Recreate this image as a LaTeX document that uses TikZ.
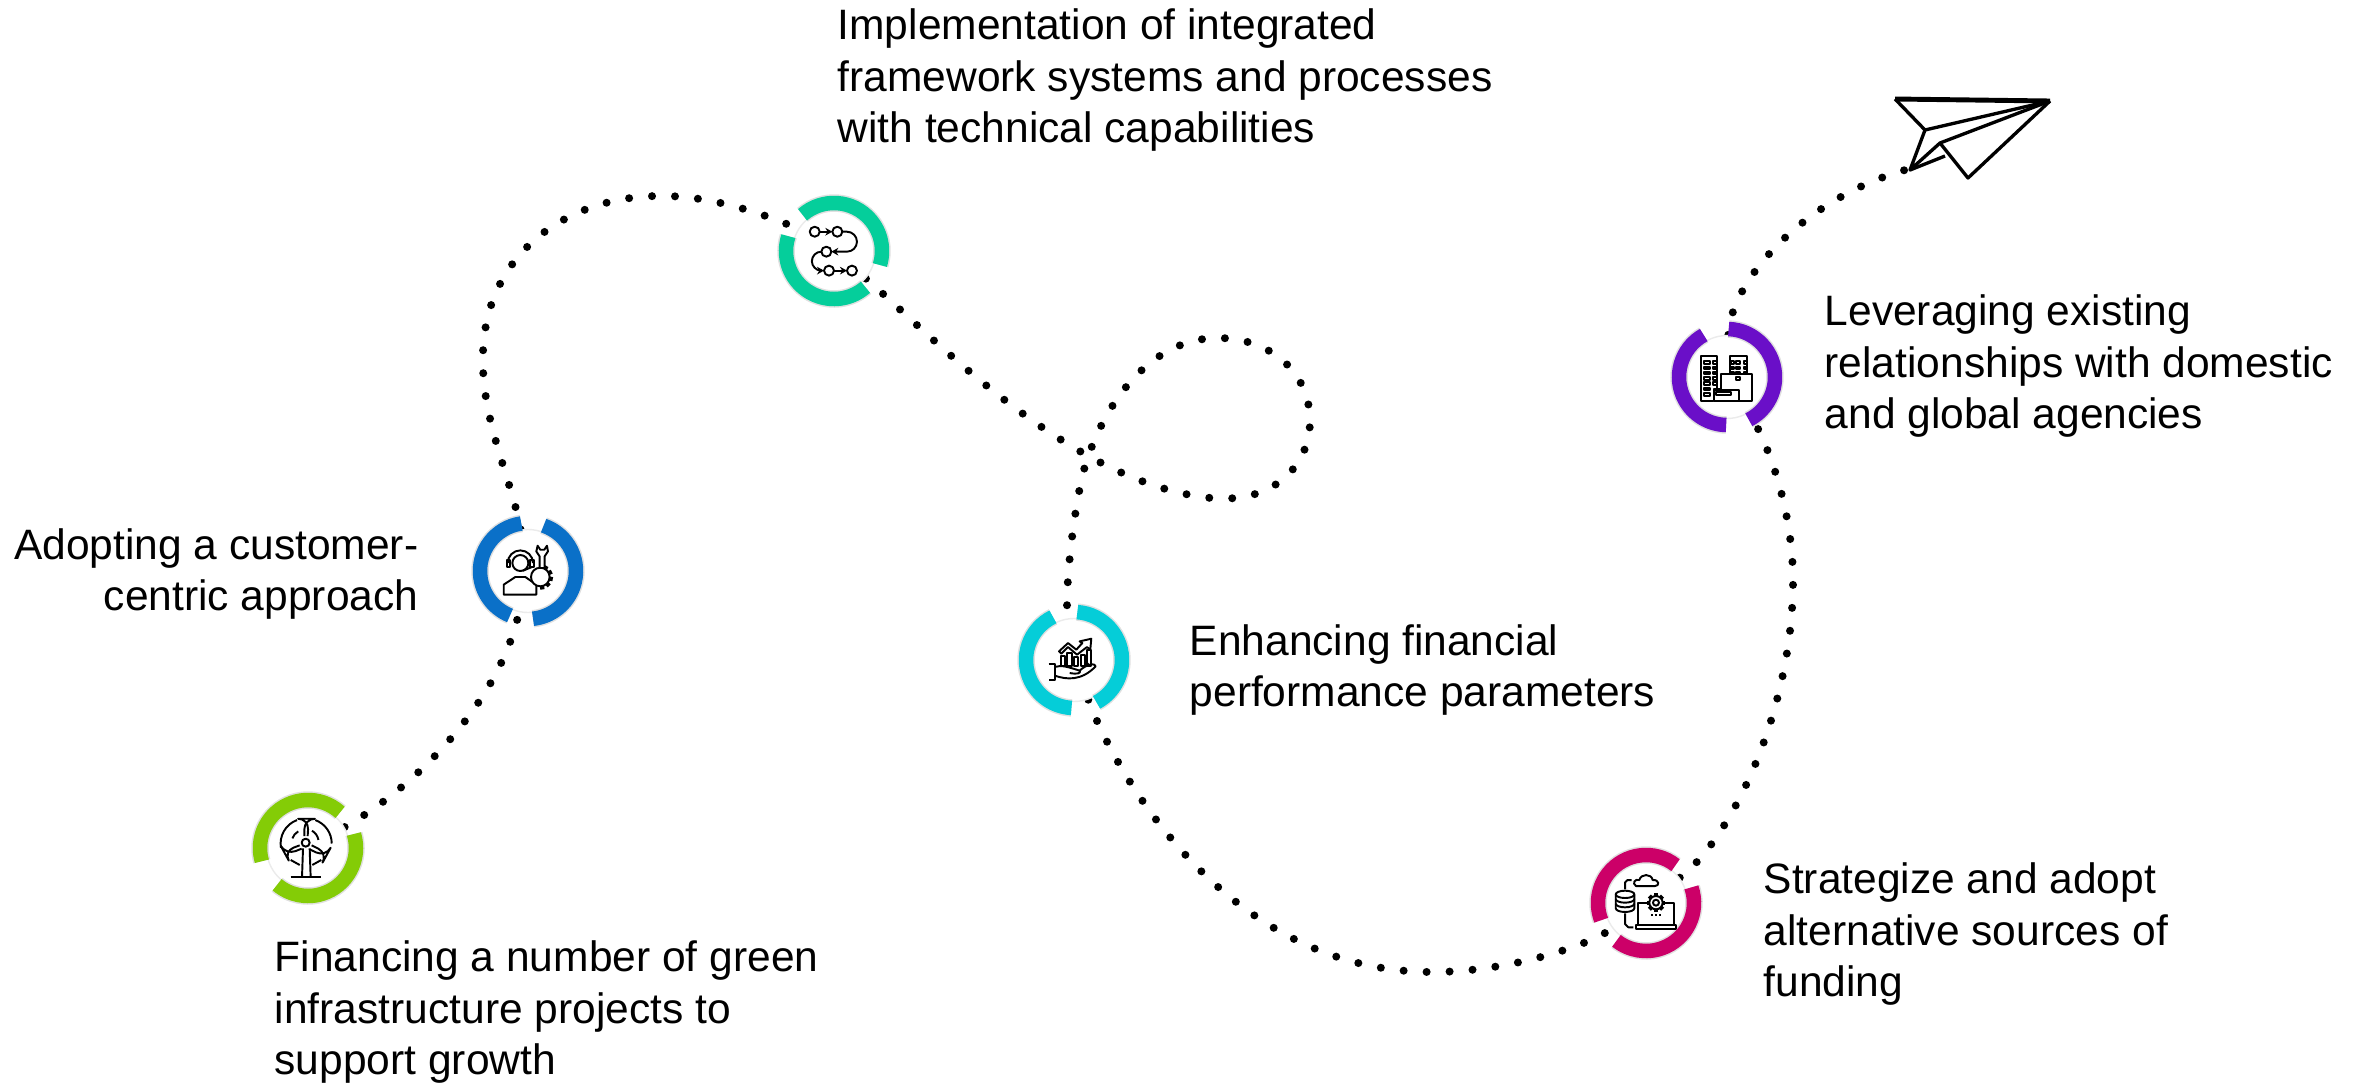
\documentclass[tikz,border=0pt]{standalone}
\usepackage{fontspec}
\setmainfont{Liberation Sans}
\usepackage{xcolor}
\usetikzlibrary{arrows.meta, backgrounds, calc}
\definecolor{windcolor}{RGB}{132, 204, 6}
\definecolor{supportcolor}{RGB}{10, 112, 200}
\definecolor{processcolor}{RGB}{5, 206, 155}
\definecolor{growthcolor}{RGB}{5, 205, 216}
\definecolor{fundingcolor}{RGB}{204, 0, 104}
\definecolor{agencycolor}{RGB}{106, 15, 200}
\tikzset{
    stopnode/.style={circle, fill=white, draw=black!8, line width=0.4pt, minimum size=0.83cm, inner sep=0pt},
    ringarc/.style={line width=0.145cm, preaction={draw=black, opacity=0.12, line width=0.175cm}},
    dotline/.style={line width=0.08cm, line cap=round, dash pattern=on 0pt off 0.23cm},
    steptext/.style={font=\fontsize{12.1}{14.55}\selectfont, inner sep=0pt, align=left, anchor=west},
    iconart/.style n args={3}{shift={(#1)}, x=0.003333cm, y=-0.003333cm, shift={(-#2,-#3)}, line width=0.55pt, line join=round},
    flowtip/.style={-{Stealth[length=2pt, width=2.2pt]}},
    planeline/.style={line width=0.95pt, line join=round}
}

\begin{document}
\begin{tikzpicture}
        \useasboundingbox (0,0) rectangle (23.63,10.84);

        % Stops
        \node[stopnode] (wind) at (3.08,2.36) {};
        \node[stopnode] (support) at (5.28,5.13) {};
        \node[stopnode] (process) at (8.34,8.33) {};
        \node[stopnode] (growth) at (10.74,4.24) {};
        \node[stopnode] (funding) at (16.46,1.81) {};
        \node[stopnode] (agency) at (17.27,7.07) {};
        \coordinate (planetail) at (19.05,9.14);

        % Dotted route
        \begin{scope}[on background layer]
            \draw[dotline] (wind) .. controls (4.20,3.00) and (5.00,3.85) .. (support);
            \draw[dotline] (support) .. controls (5.10,6.14) and (4.70,6.84) .. (4.87,7.64) .. controls (5.05,8.44) and (5.80,8.89) .. (6.63,8.88) .. controls (7.30,8.88) and (8.00,8.54) .. (process);
            \draw[dotline] (process) .. controls (9.30,7.50) and (10.70,6.00) .. (12.11,5.86) .. controls (12.75,5.80) and (13.10,6.20) .. (13.10,6.63) .. controls (13.10,7.12) and (12.70,7.46) .. (12.18,7.46) .. controls (11.45,7.46) and (10.98,6.70) .. (10.82,6.07) .. controls (10.70,5.50) and (10.65,4.84) .. (growth);
            \draw[dotline] (growth) .. controls (11.10,3.24) and (12.20,1.12) .. (14.32,1.12) .. controls (15.10,1.12) and (15.90,1.39) .. (funding);
            \draw[dotline] (funding) .. controls (17.30,2.44) and (17.95,3.74) .. (17.93,5.11) .. controls (17.90,5.94) and (17.60,6.54) .. (agency);
            \draw[dotline] (agency) .. controls (17.30,8.00) and (18.00,8.84) .. (planetail);
        \end{scope}

        % Rings
        \draw[ringarc, windcolor] ([shift={(48:0.48)}]wind.center) arc (48:196:0.48);
        \draw[ringarc, windcolor] ([shift={(17:0.48)}]wind.center) arc (17:-130:0.48);
        \draw[ringarc, supportcolor] ([shift={(98:0.48)}]support.center) arc (98:248:0.48);
        \draw[ringarc, supportcolor] ([shift={(71:0.48)}]support.center) arc (71:-84:0.48);
        \draw[ringarc, processcolor] ([shift={(131:0.48)}]process.center) arc (131:-17:0.48);
        \draw[ringarc, processcolor] ([shift={(162:0.48)}]process.center) arc (162:311:0.48);
        \draw[ringarc, growthcolor] ([shift={(86:0.48)}]growth.center) arc (86:-62:0.48);
        \draw[ringarc, growthcolor] ([shift={(116:0.48)}]growth.center) arc (116:267:0.48);
        \draw[ringarc, fundingcolor] ([shift={(52:0.48)}]funding.center) arc (52:201:0.48);
        \draw[ringarc, fundingcolor] ([shift={(19:0.48)}]funding.center) arc (19:-128:0.48);
        \draw[ringarc, agencycolor] ([shift={(88:0.48)}]agency.center) arc (88:-63:0.48);
        \draw[ringarc, agencycolor] ([shift={(119:0.48)}]agency.center) arc (119:269:0.48);

        % Wind turbine icon
        \begin{scope}[iconart={wind.center}{265}{234}]
            \draw (213,322) -- (305,322);
            \draw (250,235) -- (247,322);
            \draw (270,235) -- (273,322);
            \draw (258,218) circle (12);
            \draw[rounded corners=3pt] (254,198) -- (254,146) -- (267,146) -- (264,198);
            \draw[rounded corners=3pt] (240,226) -- (192,244) -- (198,255) -- (246,236);
            \draw[rounded corners=3pt] (276,226) -- (324,250) -- (318,261) -- (270,238);
            \draw (232,150) arc (-110:-190:75);
            \draw (287,150) arc (-70:0:75);
            \draw (218,205) arc (-160:-120:40);
            \draw (277,182) arc (-60:-10:40);
            \draw (213,270) -- (240,285);
            \draw (278,285) -- (305,270);
        \end{scope}

        % Headset and gear icon
        \begin{scope}[iconart={support.center}{233}{214}]
            \draw (210,190) circle (24);
            \draw (172,190) arc (180:360:38);
            \draw (170,182) rectangle (180,202);
            \draw (240,182) rectangle (250,202);
            \draw (245,202) -- (218,213);
            \draw (160,285) -- (160,255) -- (195,232) -- (225,232) -- (258,255) -- (258,285) -- cycle;
            \draw[fill=white] (270,232) circle (28);
            \foreach \toothangle in {-60,-25,10,45,80}
                \draw[line width=1.2pt] ($(270,232)+(\toothangle:28)$) -- ($(270,232)+(\toothangle:38)$);
            \draw[fill=white] (268,205) -- (268,170) -- (258,155) -- (262,138) -- (270,150) -- (282,150) -- (290,138) -- (293,155) -- (283,170) -- (283,205) -- cycle;
        \end{scope}

        % Process flow icon
        \begin{scope}[iconart={process.center}{223}{211}]
            \draw (165,153) circle (15);
            \draw (233,153) circle (15);
            \draw (200,213) circle (15);
            \draw (208,270) circle (15);
            \draw (277,270) circle (15);
            \draw[flowtip] (180,153) -- (218,153);
            \draw[flowtip] (248,153) -- (262,153) arc (-90:90:30) -- (215,213);
            \draw[flowtip] (185,213) arc (-90:-270:28.5) -- (193,270);
            \draw[flowtip] (223,270) -- (262,270);
        \end{scope}

        % Growth hand icon
        \begin{scope}[iconart={growth.center}{223}{211}]
            \draw (183,228) rectangle (197,198);
            \draw (203,228) rectangle (216,190);
            \draw (223,228) rectangle (236,203);
            \draw (243,228) rectangle (256,195);
            \draw (262,228) rectangle (274,180);
            \draw[fill=white] (178,185) -- (205,160) -- (230,180) -- (248,160) -- (240,155) -- (275,147) -- (272,180) -- (262,172) -- (232,195) -- (205,172) -- (185,192) -- cycle;
            \draw (147,223) -- (165,223) -- (165,270) -- (147,270);
            \draw[fill=white] (165,232) .. controls (185,225) and (205,232) .. (240,243) .. controls (245,250) and (235,255) .. (210,250);
            \draw (165,258) .. controls (200,270) and (245,275) .. (288,230) .. controls (288,220) and (262,222) .. (240,243);
            \draw (250,232) -- (268,222);
        \end{scope}

        % Cloud, database and laptop icon
        \begin{scope}[iconart={funding.center}{228}{219}]
            \draw (165,193) ellipse (28 and 11);
            \draw (137,193) -- (137,235) arc (180:0:28 and 11) -- (193,193);
            \draw (137,207) arc (180:0:28 and 11);
            \draw (137,221) arc (180:0:28 and 11);
            \draw (185,150) -- (172,150) -- (165,157) -- (165,178);
            \draw (165,250) -- (165,282) -- (175,292) -- (190,292);
            \draw (198,168) .. controls (185,160) and (195,145) .. (208,150) .. controls (212,130) and (245,130) .. (248,150) .. controls (268,148) and (270,168) .. (255,168) -- cycle;
            \draw (203,285) -- (203,218) -- (312,218) -- (312,285);
            \draw (197,285) -- (318,285) -- (318,296) -- (197,296) -- cycle;
            \foreach \keyx in {243,255,268}
                \draw (\keyx,255) -- ++(5,0);
            \draw[fill=white] (258,218) circle (20);
            \draw (258,218) circle (9);
            \foreach \toothangle in {0,45,...,315}
                \draw[line width=1.2pt] ($(258,218)+(\toothangle:20)$) -- ($(258,218)+(\toothangle:28)$);
        \end{scope}

        % Buildings icon
        \begin{scope}[iconart={agency.center}{200}{202}]
            \draw (122,138) rectangle (170,275);
            \draw (208,138) rectangle (260,215);
            \draw[fill=white] (183,193) -- (275,193) -- (275,275) -- (160,275) -- (160,238) -- (183,238) -- cycle;
            \draw (160,240) -- (235,240) -- (235,275);
            \draw (167,248) rectangle (213,257);
            \foreach \rowy in {158,175,190,207,222,238,255}
                \draw (130,\rowy-4) rectangle (150,\rowy+4);
            \foreach \rowy in {158,175,190,207,222}
                \draw (157,\rowy-4) rectangle (170,\rowy+4);
            \foreach \rowy in {158,175,190,207}
                \draw (228,\rowy-4) rectangle (240,\rowy+4);
            \foreach \rowy in {158,175,190}
                \draw (212,\rowy-4) rectangle (220,\rowy+4);
            \foreach \rowy in {158,175,190}
                \draw (250,\rowy-4) rectangle (260,\rowy+4);
        \end{scope}

        % Paper plane
        \draw[planeline, line width=1.4pt] (18.95,9.85) -- (20.50,9.83);
        \draw[planeline] (18.95,9.85) -- (19.25,9.54) -- (20.50,9.83);
        \draw[planeline] (19.25,9.54) -- (19.10,9.14) -- (19.40,9.41) -- (20.50,9.83);
        \draw[planeline] (19.10,9.14) -- (19.45,9.28);
        \draw[planeline] (19.40,9.41) -- (19.68,9.06) -- (20.50,9.83);

        % Labels
        \node[steptext] (implementtext) at (8.37,10.04) {Implementation of integrated\\framework systems and processes\\with technical capabilities};
        \node[steptext, align=right, anchor=east] (customertext) at (4.19,5.10) {Adopting a customer-\\centric approach};
        \node[steptext] (greentext) at (2.74,0.72) {Financing a number of green\\infrastructure projects to\\support growth};
        \node[steptext] (financetext) at (11.89,4.14) {Enhancing financial\\performance parameters};
        \node[steptext] (fundingtext) at (17.63,1.50) {Strategize and adopt\\alternative sources of\\funding};
        \node[steptext] (agencytext) at (18.24,7.18) {Leveraging existing\\relationships with domestic\\and global agencies};
    \end{tikzpicture}
\end{document}
